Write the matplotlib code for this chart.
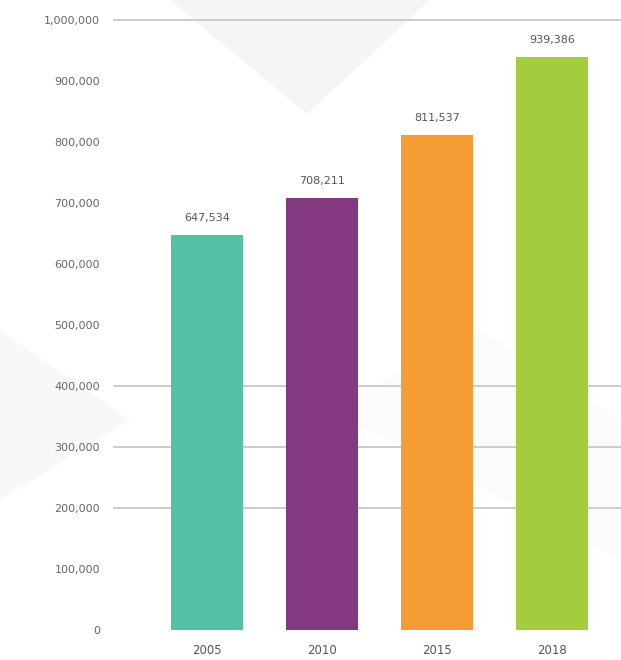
import matplotlib
matplotlib.use('Agg')
import matplotlib.pyplot as plt
from matplotlib.patches import Polygon

# Werte
years = ['2005', '2010', '2015', '2018']
values = [647534, 708211, 811537, 939386]
colors = ['#52c1a4', '#84387f', '#f59c35', '#a3cd3d']
yticks = [0, 100000, 200000, 300000, 400000, 500000, 600000, 700000, 800000, 900000, 1000000]
grid_at = [200000, 300000, 400000, 1000000]

fig = plt.figure(figsize=(6.21, 6.6), dpi=100)

# helle Hintergrundflaechen in eigener Achse ganz unten
bgax = fig.add_axes([0, 0, 1, 1], zorder=-1)
bgax.set_xlim(0, 621)
bgax.set_ylim(660, 0)
bgax.axis('off')
bgax.add_patch(Polygon([(170, 0), (430, 0), (307, 114)], closed=True, color='#f5f5f5', lw=0))
bgax.add_patch(Polygon([(0, 330), (0, 500), (130, 420)], closed=True, color='#f8f8f8', lw=0))
bgax.add_patch(Polygon([(330, 410), (480, 330), (621, 420), (621, 560)], closed=True,
                       color='#fbfbfb', lw=0))

ax = fig.add_axes([114/621, 1-630/660, 1-114/621, 610/660])
ax.patch.set_alpha(0)

x = range(len(years))
bars = ax.bar(x, values, width=0.63, color=colors, zorder=3)

for g in grid_at:
    ax.axhline(g, color='#c4c4c4', lw=1.2, zorder=1, clip_on=False)

for xi, v in zip(x, values):
    ax.text(xi, v + 20000, f'{v:,}', ha='center', va='bottom', fontsize=8, color='#555555')

ax.set_xlim(-0.81, 3.6)
ax.set_ylim(0, 1000000)
ax.set_yticks(yticks)
ax.set_yticklabels([f'{t:,}' for t in yticks], fontsize=8, color='#666666')
ax.set_xticks(list(x))
ax.set_xticklabels(years, fontsize=8.5, color='#555555')
ax.tick_params(axis='y', length=0, pad=10)
ax.tick_params(axis='x', length=0, pad=10)
for s in ax.spines.values():
    s.set_visible(False)

plt.savefig('out.png', dpi=100)
